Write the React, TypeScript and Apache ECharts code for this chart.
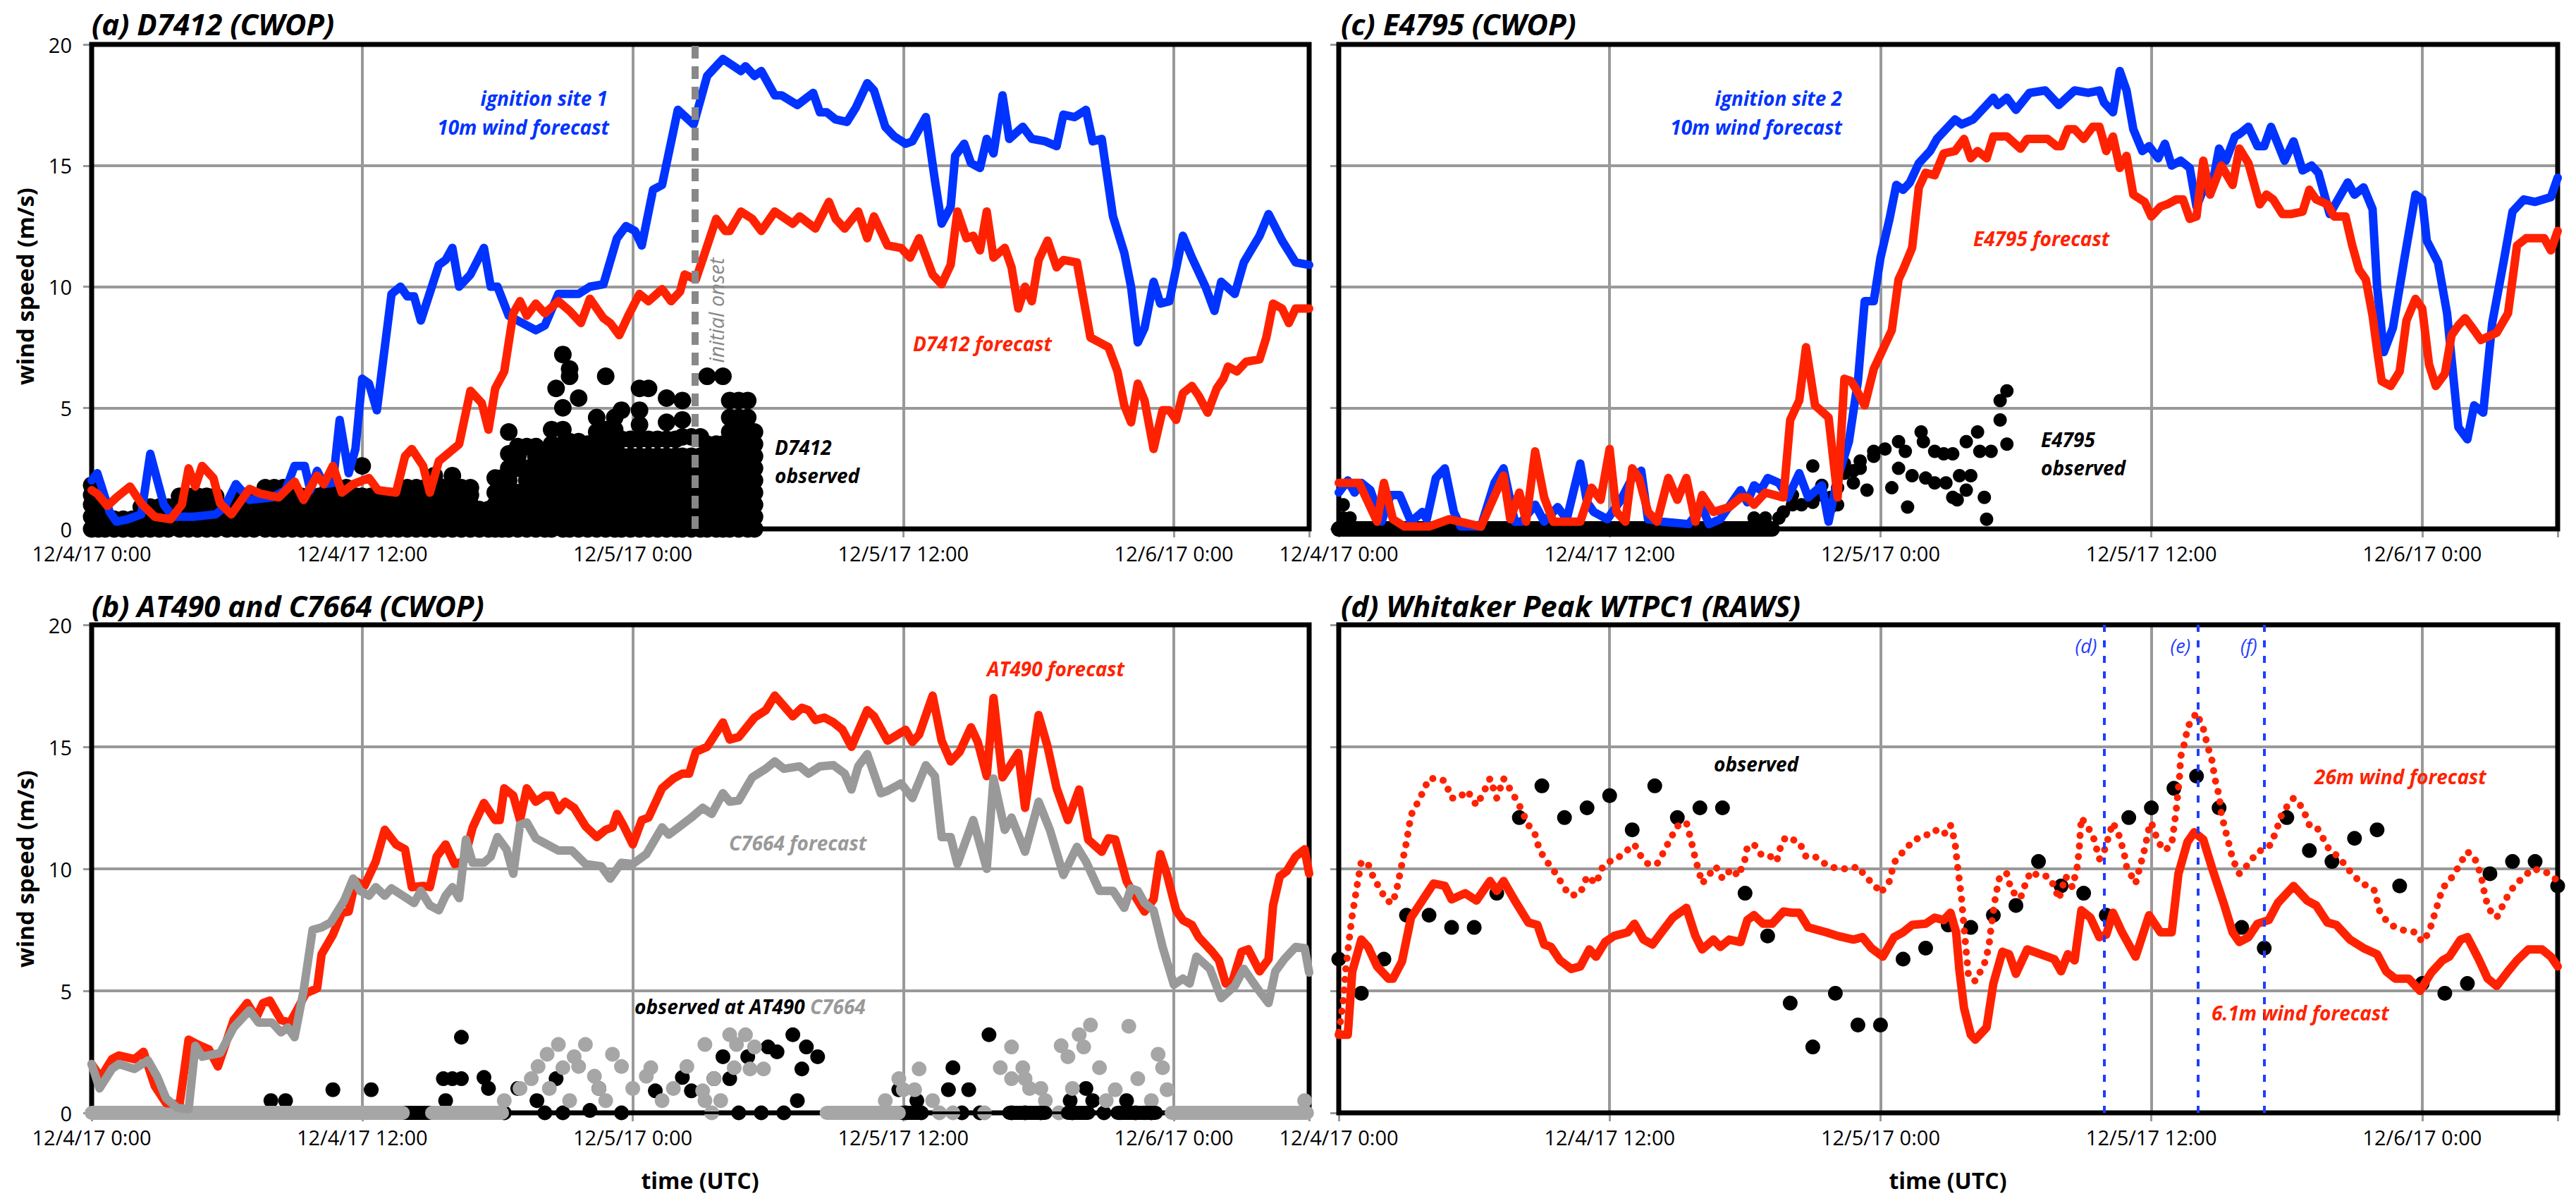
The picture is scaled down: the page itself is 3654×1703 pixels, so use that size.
import React, { useEffect, useRef } from 'react';
import * as echarts from 'echarts';

const W = 3654;
const H = 1703;
const FONT = 'Open Sans';
const BLUE = '#0033ff';
const RED = '#ff2200';
const GRAY = '#999999';
const DOTGRAY = '#a6a6a6';

const xTickLabels = ['12/4/17 0:00', '12/4/17 12:00', '12/5/17 0:00', '12/5/17 12:00', '12/6/17 0:00'];
const yTickLabels = ['0', '5', '10', '15', '20'];

// ---------- panel (a) D7412 ----------
const blueA = [[0,2.0],[0.25,2.3],[0.8,0.7],[1.1,0.3],[1.6,0.4],[2.2,0.6],[2.6,3.1],[3.2,1.0],[3.6,0.5],[4.5,0.5],[5.5,0.6],[5.9,0.9],[6.4,1.85],[7.0,1.2],[8.0,1.3],[8.6,1.6],[9.0,2.6],[9.45,2.6],[9.7,1.6],[10.0,2.4],[10.3,1.85],[10.7,1.9],[11.0,4.5],[11.4,2.3],[11.7,3.3],[12.0,6.2],[12.3,6.0],[12.65,4.9],[13.3,9.7],[13.7,10.0],[14.0,9.6],[14.3,9.6],[14.6,8.6],[15.4,10.9],[15.7,11.1],[16.0,11.6],[16.3,10.0],[16.8,10.5],[17.4,11.6],[17.7,10.0],[18.0,10.0],[18.5,8.8],[19.1,8.5],[19.7,8.2],[20.1,8.4],[20.7,9.7],[21.6,9.7],[22.1,10.0],[22.7,10.1],[23.3,12.0],[23.7,12.5],[24.1,12.3],[24.4,11.7],[24.9,14.0],[25.3,14.2],[26.0,17.3],[26.7,16.7],[27.3,18.7],[28.0,19.4],[28.8,18.9],[29.0,19.1],[29.4,18.7],[29.7,18.9],[30.3,17.9],[30.6,17.9],[31.3,17.5],[32.0,18.0],[32.3,17.2],[32.6,17.2],[33.0,16.9],[33.5,16.8],[33.9,17.4],[34.4,18.4],[34.7,18.1],[35.2,16.6],[35.6,16.2],[36.1,15.9],[36.4,16.0],[37.0,17.0],[37.4,14.4],[37.7,12.6],[38.1,13.3],[38.3,15.4],[38.7,15.9],[39.0,15.1],[39.4,14.9],[39.7,16.1],[40.0,15.5],[40.4,17.9],[40.7,16.1],[41.3,16.6],[41.7,16.1],[42.3,16.0],[42.8,15.8],[43.1,17.1],[43.6,17.0],[44.1,17.3],[44.4,16.0],[44.8,16.1],[45.3,12.9],[45.8,11.4],[46.1,10.0],[46.4,7.7],[46.7,8.3],[47.1,10.2],[47.4,9.3],[47.8,9.4],[48.4,12.1],[48.8,11.2],[49.4,10.0],[49.8,9.0],[50.1,10.2],[50.7,9.7],[51.1,11.0],[51.8,12.1],[52.2,13.0],[52.8,11.9],[53.4,11.0],[54,10.9]];
const redA = [[0,1.6],[0.25,1.45],[0.7,0.95],[1.1,1.3],[1.7,1.75],[2.2,1.05],[2.8,0.5],[3.5,0.4],[4.0,1.0],[4.3,2.5],[4.6,1.75],[4.9,2.6],[5.4,2.1],[5.7,1.05],[6.2,0.6],[7.0,1.65],[7.5,1.45],[8.3,1.3],[9.0,1.95],[9.4,1.2],[10.0,2.2],[10.3,1.85],[10.7,2.6],[11.1,1.5],[11.6,1.85],[12.3,2.1],[12.7,1.6],[13.5,1.5],[13.9,3.0],[14.2,3.3],[14.7,2.6],[15.0,1.5],[15.4,2.8],[16.3,3.5],[16.8,5.7],[17.3,5.2],[17.6,4.1],[17.9,5.8],[18.3,6.5],[18.7,8.9],[19.0,9.4],[19.3,8.8],[19.7,9.3],[20.1,8.9],[20.7,9.4],[21.2,9.0],[21.7,8.5],[22.1,9.5],[22.7,8.7],[23.0,8.5],[23.4,8.0],[23.8,8.8],[24.3,9.7],[24.7,9.4],[25.3,9.9],[25.7,9.4],[26.1,9.8],[26.3,10.5],[26.8,10.3],[27.2,11.4],[27.7,12.8],[28.1,12.3],[28.3,12.3],[28.8,13.1],[29.3,12.8],[29.7,12.3],[30.3,13.1],[31.1,12.6],[31.4,12.9],[32.1,12.4],[32.7,13.5],[33.0,12.8],[33.4,12.4],[34.0,13.1],[34.4,12.0],[34.7,12.9],[35.3,11.7],[35.9,11.6],[36.3,11.2],[36.7,12.0],[37.3,10.5],[37.7,10.1],[38.1,10.9],[38.4,13.1],[38.8,12.0],[39.1,12.1],[39.4,11.5],[39.7,13.1],[40.0,11.2],[40.5,11.6],[40.8,10.8],[41.1,9.1],[41.4,10.0],[41.7,9.4],[42.0,11.1],[42.4,11.9],[42.8,10.8],[43.1,11.1],[43.7,11.0],[44.3,7.9],[44.7,7.7],[45.1,7.5],[45.5,6.5],[45.8,5.1],[46.1,4.4],[46.4,6.0],[46.7,5.3],[47.1,3.3],[47.5,4.9],[47.8,4.9],[48.1,4.5],[48.4,5.6],[48.8,5.9],[49.1,5.5],[49.5,4.8],[49.9,5.8],[50.2,6.2],[50.4,6.7],[50.8,6.5],[51.2,6.9],[51.8,7.0],[52.1,7.9],[52.4,9.3],[52.8,9.1],[53.1,8.5],[53.4,9.1],[54,9.1]];
// observed D7412: [time, values observed around that time]
const obsAColumns: [number, number[]][] = [
  [0.0,[0,0.5,1,1.4,1.8]],[0.3,[0,0.5,1,1.5]],[0.6,[0,0.4]],[1.0,[0,0.4]],[1.4,[0,0.4]],[1.8,[0,0.4]],
  [2.2,[0,0.5,0.9]],[2.6,[0,0.5,0.9]],[3.0,[0,0.5,0.9]],[3.4,[0,0.5,0.9]],[3.9,[0,0.5,0.9,1.35]],
  [4.3,[0,0.5,0.9,1.35]],[4.7,[0,0.5,1,1.35]],[5.1,[0,0.5,1,1.35]],[5.5,[0,0.5,1,1.35]],[6.0,[0,0.5,0.9]],
  [6.4,[0,0.5,1,1.35]],[6.8,[0,0.5,1,1.35]],[7.2,[0,0.5,1,1.35]],[7.7,[0,0.5,1,1.4,1.7]],[8.1,[0,0.5,1,1.4,1.7]],
  [8.5,[0,0.5,1,1.4,1.7]],[8.9,[0,0.5,1,1.35]],[9.3,[0,0.5,1,1.35]],[9.7,[0,0.5,1,1.35]],[10.1,[0,0.5,1,1.35]],
  [10.5,[0,0.5,1,1.4,1.7]],[10.9,[0,0.5,1,1.4,1.7]],[11.3,[0,0.5,1,1.4,1.7]],[11.7,[0,0.5,1,1.35]],
  [12.0,[0,0.5,1,1.35,2.6]],[12.4,[0,0.5,1,1.35]],[12.8,[0,0.5,1,1.35]],[13.2,[0,0.5,1,1.35]],[13.6,[0,0.5,1,1.35]],
  [14.0,[0,0.5,1,1.4,1.7]],[14.4,[0,0.5,1,1.4,1.7]],[14.8,[0,0.5,1,1.4,1.7]],[15.2,[0,0.5,1,1.5,2.0,2.2]],
  [15.6,[0,0.5,1,1.4,1.7]],[16.0,[0,0.5,1,1.4,1.7,2.2]],[16.4,[0,0.5,1,1.4,1.7]],[16.8,[0,0.5,1,1.4,1.7]],
  [17.2,[0,0.4,0.8]],[17.6,[0,0.4,0.8]],[17.9,[0,0.5,1,1.5,2.1]],[18.2,[0,0.5,1,1.5,2.1]],
  [18.5,[0,0.5,1,1.5,2,2.5,3.1,4.0]],[18.9,[0,0.5,1,1.5,2.5,3,3.4]],[19.3,[0,0.5,1,1.5,2,2.5,3.4]],
  [19.7,[0,0.5,1,1.5,2,2.5,3,3.4]],[20.1,[0,0.5,1,1.5,2,2.5,3.1]],[20.4,[0,0.5,1,1.5,2,2.5,3,3.5,4.1]],
  [20.6,[5.8]],[20.9,[0,0.5,1,1.5,2,2.5,3,3.5,4.1,5.0,7.2]],[21.2,[0,0.5,1,1.5,2,2.5,3,3.6,6.3,6.6]],
  [21.6,[0,0.5,1,1.5,2,2.5,3,3.6,5.4]],[22.0,[0,0.5,1,1.5,2,2.5,3,3.5]],[22.4,[0,0.5,1,1.5,2,2.5,3,3.5,4.0,4.6]],
  [22.8,[0,0.5,1,1.5,2,2.5,3,3.5,4.1,6.3]],[23.2,[0,0.5,1,1.5,2,2.5,3,3.5,4.1,4.6]],[23.5,[0,0.5,1,1.5,2,2.5,3,3.7,4.9]],
  [23.9,[0,0.5,1,1.5,2,2.5,3,3.7]],[24.3,[0,0.5,1,1.5,2,2.5,3,3.7,4.3,4.9,5.8]],[24.7,[0,0.5,1,1.5,2,2.5,3,3.7,5.8]],
  [25.1,[0,0.5,1,1.5,2,2.5,3,3.7]],[25.5,[0,0.5,1,1.5,2,2.5,3,3.7,4.4,5.4]],[25.9,[0,0.5,1,1.5,2,2.5,3,3.7]],
  [26.2,[0,0.5,1,1.5,2,2.5,3,3.8,4.5,5.3]],[26.6,[0,0.5,1,1.5,2,2.5,3,3.8]],[27.0,[0,0.5,1,1.5,2,2.5,3,3.8]],
  [27.3,[0,0.5,1,1.5,2,2.5,3,3.5,6.3]],[27.7,[0,0.5,1,1.5,2,2.5,3,3.5]],[28.0,[0,0.5,1,1.5,2,2.5,3,3.5,6.3]],
  [28.3,[0,0.5,1,1.5,2,2.5,3,3.5,4.0,4.6,5.3]],[28.7,[0,0.5,1,1.5,2,2.5,3,3.5,4.0,4.6,5.3]],
  [29.1,[0,0.5,1,1.5,2,2.5,3,3.5,4.0,4.6,5.3]],[29.4,[0,0.5,1,1.5,2,2.5,3,3.5,4.0]]
];
const onsetA = 26.75;

// ---------- panel (c) E4795 ----------
const blueC = [[0,1.5],[0.4,2.0],[0.7,1.5],[1.0,1.9],[1.4,1.6],[1.9,0.3],[2.3,1.4],[2.7,1.4],[3.2,0.3],[3.7,0.7],[3.9,0.4],[4.3,2.1],[4.7,2.5],[5.1,0.7],[5.4,0.1],[6.3,0.1],[6.9,1.9],[7.3,2.5],[7.8,0.3],[8.1,0.3],[8.7,1.0],[9.1,0.3],[9.7,0.9],[10.1,0.4],[10.7,2.7],[11.0,1.1],[11.3,0.7],[11.9,0.4],[12.5,1.2],[13.0,2.1],[13.4,2.4],[13.7,0.4],[14.3,0.3],[15.5,0.2],[16.1,0.9],[16.4,0.2],[16.9,0.4],[17.8,1.6],[18.1,1.1],[18.4,1.8],[18.7,1.6],[19.0,2.1],[19.5,1.9],[19.9,1.3],[20.4,2.3],[20.8,1.3],[21.4,1.8],[21.7,0.3],[22.1,2.1],[22.6,3.6],[23.0,6.1],[23.3,9.4],[23.7,9.4],[24.0,11.2],[24.4,12.8],[24.7,14.2],[25.0,14.0],[25.3,14.3],[25.7,15.1],[26.2,15.6],[26.5,16.1],[27.3,16.9],[27.6,16.7],[28.1,16.9],[29.0,17.8],[29.2,17.5],[29.6,17.8],[30.0,17.3],[30.6,18.0],[31.3,18.1],[31.9,17.5],[32.6,18.1],[33.2,18.0],[33.7,18.1],[33.9,17.6],[34.3,17.2],[34.6,18.9],[34.9,18.1],[35.2,16.5],[35.6,15.6],[35.9,15.8],[36.3,15.3],[36.6,15.9],[36.9,15.0],[37.3,15.2],[37.7,14.9],[38.0,13.3],[38.3,14.0],[38.7,14.2],[39.0,15.7],[39.3,15.2],[39.7,16.2],[39.9,16.3],[40.3,16.6],[40.7,15.8],[41.0,15.8],[41.3,16.6],[41.9,15.2],[42.3,16.0],[42.7,14.8],[43.1,15.0],[43.4,14.7],[43.9,13.0],[44.7,14.3],[45.0,13.8],[45.4,14.1],[45.8,13.2],[46.0,10.0],[46.3,7.3],[46.7,8.3],[47.2,11.1],[47.7,13.8],[48.0,13.6],[48.2,11.9],[48.7,11.0],[49.1,8.9],[49.6,4.2],[50.0,3.7],[50.3,5.1],[50.7,4.8],[51.1,8.5],[51.6,11.0],[52.0,13.1],[52.5,13.6],[53.0,13.5],[53.7,13.7],[54,14.5]];
const redC = [[0,1.9],[0.9,1.9],[1.7,0.3],[2.0,1.9],[2.4,0.4],[2.9,0.1],[4.0,0.1],[4.9,0.4],[6.3,0.1],[7.3,2.2],[7.6,0.4],[8.0,1.5],[8.3,0.3],[8.7,3.2],[9.1,1.3],[9.5,0.3],[10.7,0.3],[11.2,1.7],[11.6,1.2],[12.0,3.3],[12.3,0.7],[12.7,0.3],[13.0,2.5],[13.3,2.1],[13.7,0.7],[14.1,0.3],[14.6,2.1],[15.0,1.2],[15.4,2.1],[15.8,0.3],[16.1,1.4],[16.6,0.7],[17.3,0.9],[17.8,1.3],[18.1,1.3],[18.4,1.0],[18.9,1.5],[19.7,1.3],[20.0,4.5],[20.4,5.3],[20.7,7.5],[21.1,5.1],[21.7,4.6],[22.1,1.3],[22.4,6.2],[22.7,6.1],[22.9,5.8],[23.3,5.1],[23.7,6.6],[24.1,7.4],[24.5,8.2],[24.8,10.3],[25.0,10.7],[25.4,11.6],[25.7,14.1],[26.0,14.7],[26.4,14.6],[26.8,15.5],[27.3,15.6],[27.7,16.1],[28.0,15.3],[28.3,15.6],[28.7,15.3],[29.0,16.2],[29.6,16.2],[30.2,15.7],[30.5,16.1],[31.4,16.1],[31.8,15.8],[32.0,15.8],[32.3,16.5],[32.6,16.5],[33.0,16.1],[33.4,16.6],[33.7,16.6],[34.0,15.6],[34.3,16.2],[34.6,14.9],[34.9,15.4],[35.2,13.8],[35.7,13.5],[36.0,12.9],[36.4,13.3],[36.7,13.4],[37.1,13.6],[37.4,13.6],[37.7,12.8],[38.0,12.9],[38.3,15.2],[38.6,13.8],[39.1,15.0],[39.6,14.2],[39.9,15.7],[40.3,15.1],[40.8,13.4],[41.1,13.8],[41.4,13.6],[41.8,13.0],[42.2,13.0],[42.7,13.1],[43.0,14.0],[43.3,13.6],[43.8,13.4],[44.1,12.9],[44.6,12.9],[44.9,11.7],[45.2,10.7],[45.5,10.3],[45.8,8.8],[46.0,7.4],[46.2,6.1],[46.6,5.9],[47.0,6.5],[47.3,8.6],[47.7,9.5],[48.0,9.1],[48.3,6.8],[48.6,5.9],[49.0,6.4],[49.3,8.0],[49.6,8.4],[49.9,8.7],[50.3,8.2],[50.6,7.8],[51.3,8.1],[51.8,8.9],[52.2,11.7],[52.6,12.0],[53.4,12.0],[53.7,11.5],[54,12.3]];
const obsCZeroRuns = [[0, 19.2]];
const obsC = [[0.2,1.0],[0.2,0.45],[0.5,0.45],[18.4,0.45],[18.9,0.45],[19.5,0.45],[19.7,0.7],[20.1,1.4],[20.1,1.0],[20.5,1.0],[21.0,2.6],[21.0,1.1],[21.4,1.8],[21.4,1.4],[21.8,1.3],[21.8,0.9],[22.1,1.0],[22.1,1.7],[22.4,2.7],[22.4,2.3],[22.8,2.4],[22.8,1.9],[23.1,2.8],[23.1,2.5],[23.4,1.6],[23.7,3.2],[23.7,3.0],[24.2,3.3],[24.5,1.7],[24.8,3.6],[24.8,2.5],[25.1,3.2],[25.2,0.9],[25.4,2.2],[25.8,4.0],[25.9,3.6],[26.0,2.1],[26.4,3.2],[26.4,1.9],[26.8,3.1],[26.9,1.9],[27.2,3.1],[27.2,1.3],[27.4,1.2],[27.5,2.2],[27.8,1.6],[27.8,3.6],[28.0,2.2],[28.3,4.0],[28.4,3.2],[28.6,1.3],[28.7,0.4],[28.9,3.2],[29.3,4.5],[29.3,5.3],[29.6,5.7],[29.6,3.5]];

// ---------- panel (b) AT490 and C7664 ----------
const redB = [[0,2.0],[0.4,1.45],[0.9,2.2],[1.2,2.35],[1.9,2.2],[2.3,2.5],[2.8,1.1],[3.3,0.4],[3.9,0.35],[4.3,3.0],[4.7,2.8],[5.2,2.6],[5.6,1.9],[6.3,3.8],[6.9,4.5],[7.3,3.9],[7.6,4.5],[7.9,4.6],[8.4,3.8],[8.8,3.7],[9.1,4.2],[9.5,4.9],[10.0,5.1],[10.2,6.5],[10.7,7.3],[11.1,8.2],[11.4,8.25],[11.7,9.5],[12.1,9.3],[12.6,10.3],[13.0,11.6],[13.5,11.0],[13.9,10.8],[14.2,9.25],[14.7,9.3],[15.0,9.25],[15.3,10.5],[15.7,11.0],[16.1,10.2],[16.5,10.3],[16.9,11.7],[17.4,12.7],[17.9,12.0],[18.1,12.0],[18.3,13.3],[18.7,13.0],[19.0,12.0],[19.3,13.3],[19.7,12.75],[20.1,13.0],[20.4,13.0],[20.7,12.4],[21.0,12.75],[21.4,12.5],[21.9,11.75],[22.4,11.3],[22.8,11.6],[23.1,11.7],[23.3,12.25],[23.6,11.75],[24.0,11.0],[24.4,12.0],[24.7,12.1],[25.3,13.3],[25.8,13.7],[26.2,13.9],[26.5,13.9],[26.8,14.8],[27.3,15.0],[28.0,16.0],[28.3,15.3],[28.7,15.4],[29.4,16.2],[29.9,16.5],[30.3,17.1],[31.1,16.25],[31.5,16.6],[31.8,16.5],[32.1,16.1],[32.5,16.2],[32.9,16.0],[33.3,15.7],[33.7,15.0],[34.4,16.5],[34.7,16.25],[35.3,15.25],[36.1,15.7],[36.4,15.2],[36.7,15.5],[37.3,17.1],[37.7,15.25],[38.1,14.4],[38.5,14.8],[39.0,15.8],[39.3,15.2],[39.7,13.8],[40.0,17.0],[40.4,13.75],[41.1,14.75],[41.4,12.5],[42.0,16.3],[42.4,15.0],[42.8,13.3],[43.3,12.0],[43.8,13.25],[44.2,11.2],[44.8,10.7],[45.1,11.25],[45.4,11.2],[45.9,9.5],[46.2,9.0],[46.7,8.25],[47.1,8.75],[47.4,10.6],[47.7,9.75],[48.1,8.3],[48.4,7.9],[48.8,7.7],[49.1,7.2],[49.7,6.6],[50.0,6.25],[50.3,5.3],[50.6,5.4],[51.0,6.6],[51.3,6.7],[51.8,5.8],[52.2,6.3],[52.4,8.5],[52.7,9.7],[53.0,9.9],[53.4,10.5],[53.8,10.8],[54,9.8]];
const grayB = [[0,2.0],[0.35,1.0],[0.9,1.8],[1.2,2.0],[1.9,1.8],[2.5,2.15],[2.9,1.5],[3.3,0.6],[3.8,0.2],[4.3,0.15],[4.6,2.75],[4.9,2.3],[5.7,2.45],[6.3,3.5],[7.0,4.2],[7.4,3.7],[8.0,3.7],[8.4,3.3],[8.7,3.5],[9.0,3.1],[9.4,5.0],[9.8,7.5],[10.2,7.6],[10.6,7.8],[11.2,8.7],[11.6,9.6],[11.9,9.1],[12.3,8.9],[12.6,9.25],[13.0,8.9],[13.3,9.2],[13.8,8.9],[14.3,8.6],[14.6,9.1],[15.0,8.5],[15.4,8.3],[15.7,8.9],[16.0,9.25],[16.3,8.8],[16.6,11.2],[16.9,10.25],[17.4,10.25],[17.7,10.5],[18.0,11.3],[18.4,10.8],[18.7,9.8],[19.0,11.8],[19.3,11.9],[19.7,11.25],[20.2,11.0],[20.7,10.75],[21.3,10.75],[21.9,10.2],[22.6,10.1],[23.0,9.6],[23.5,10.25],[24.0,10.2],[24.6,10.6],[25.3,11.7],[25.6,11.4],[26.1,11.75],[26.6,12.1],[27.1,12.5],[27.5,12.25],[28.0,13.1],[28.3,12.75],[28.7,12.8],[29.3,13.75],[29.9,14.1],[30.3,14.4],[30.7,14.1],[31.4,14.2],[31.8,13.9],[32.3,14.2],[32.9,14.25],[33.4,13.9],[33.7,13.25],[34.0,14.2],[34.4,14.7],[35.0,13.1],[35.3,13.2],[35.9,13.5],[36.4,12.9],[37.0,14.25],[37.4,13.8],[37.7,11.3],[38.1,11.3],[38.4,10.2],[39.1,12.0],[39.7,10.0],[40.0,13.7],[40.5,11.6],[40.8,12.1],[41.4,10.7],[42.0,12.75],[42.5,11.6],[43.1,9.75],[43.7,10.9],[44.1,10.3],[44.7,9.1],[45.3,9.1],[45.8,8.4],[46.1,9.2],[46.4,9.1],[46.7,8.6],[47.1,8.3],[47.5,6.8],[48.0,5.25],[48.4,5.5],[48.7,5.3],[49.0,6.4],[49.6,5.9],[50.1,4.7],[50.7,5.2],[51.1,5.9],[51.7,5.1],[52.2,4.5],[52.5,5.8],[52.9,6.3],[53.4,6.8],[53.8,6.75],[54,5.75]];
const obsAT490 = [[7.95,0.5],[8.6,0.5],[10.7,0.95],[12.4,0.95],[15.7,0.5],[15.6,1.4],[16.0,1.4],[16.4,1.4],[16.4,3.1],[17.4,1.45],[17.6,1.0],[18.3,0],[18.9,1.0],[19.75,0.5],[20.1,0],[20.6,1.4],[20.9,0],[22.1,0.1],[22.5,1.0],[23.5,0],[25.0,0.9],[26.2,1.45],[26.6,0.9],[27.6,1.4],[28.0,2.3],[28.3,1.4],[28.7,0],[29.1,2.3],[29.7,0],[30.0,2.7],[30.4,2.5],[30.7,0],[31.1,3.2],[31.3,0.5],[31.5,1.8],[31.7,2.7],[32.2,2.3],[35.8,0.95],[36.1,0],[36.6,0.5],[36.8,0],[38.0,0.95],[38.2,1.85],[38.6,0],[38.9,0.95],[39.4,0],[39.8,3.2],[40.8,0],[41.4,0],[42.1,0],[43.4,0.5],[43.5,0],[44.1,1.0],[44.4,0.5],[44.9,0],[45.9,0.5],[46.3,0],[47.0,0]];
const obsAT490ZeroRuns = [[13.8,15.0],[35.9,36.8],[40.7,42.3],[43.3,44.2],[45.5,47.2]];
const obsAT490Links = [[18.3,23.6],[26.9,32.6],[36.8,47.8]];
const obsC7664 = [[18.3,0.5],[19.0,1.0],[19.5,1.4],[19.8,1.9],[20.2,2.4],[20.7,2.8],[20.3,1.0],[20.9,1.85],[21.2,0.5],[21.4,2.3],[21.6,1.9],[21.9,2.8],[22.3,1.5],[22.5,1.0],[22.8,0.5],[23.1,2.4],[23.5,1.9],[24.0,1.0],[24.6,1.5],[24.8,1.85],[25.3,0.5],[25.8,1.0],[26.4,1.9],[27.2,2.8],[27.1,0.9],[27.2,0.5],[27.5,0],[27.6,1.4],[27.9,0.5],[28.3,3.2],[28.5,1.85],[28.6,2.8],[29.0,3.2],[29.2,1.8],[29.4,2.7],[29.8,1.8],[35.2,0.5],[35.8,1.4],[36.0,0.95],[36.5,0.95],[36.7,1.8],[37.3,0.5],[37.6,0],[38.2,0],[39.6,0],[40.3,1.85],[40.8,2.7],[40.8,1.4],[41.3,1.85],[41.4,1.4],[41.6,1.0],[42.1,1.0],[42.3,0.5],[42.9,0],[43.0,2.75],[43.3,2.3],[43.5,1.0],[43.8,3.2],[44.0,2.7],[44.3,3.6],[44.7,1.85],[45.0,0.5],[45.4,0.95],[45.6,0],[46.0,3.55],[46.4,1.4],[46.7,0],[47.0,0.5],[47.3,2.4],[47.5,1.85],[47.7,0.95],[53.8,0.5]];
const obsC7664ZeroRuns = [[0,13.8],[15.1,18.2],[32.6,35.8],[47.9,53.9]];

// ---------- panel (d) Whitaker Peak WTPC1 ----------
const fc61m = [[0,3.2],[0.4,3.2],[0.6,5.8],[1.0,7.1],[1.3,6.8],[1.7,6.0],[2.2,5.5],[2.4,5.5],[2.8,6.2],[3.2,8.0],[3.7,8.7],[4.2,9.4],[4.7,9.3],[5.0,8.75],[5.6,9.0],[6.1,8.7],[6.7,9.5],[7.0,9.1],[7.3,9.5],[7.8,8.7],[8.4,7.8],[8.8,7.7],[9.1,6.9],[9.4,6.8],[9.8,6.25],[10.3,5.9],[10.7,6.0],[11.1,6.7],[11.4,6.4],[11.8,7.0],[12.2,7.25],[12.8,7.4],[13.1,7.75],[13.5,7.1],[13.9,6.9],[14.3,7.4],[14.8,8.0],[15.4,8.4],[15.8,7.25],[16.1,6.7],[16.6,7.1],[16.9,6.8],[17.3,7.1],[17.8,7.0],[18.1,7.9],[18.4,8.1],[18.8,7.75],[19.2,7.75],[19.7,8.25],[20.1,8.2],[20.4,8.2],[20.8,7.6],[21.6,7.4],[22.1,7.25],[22.8,7.1],[23.2,7.2],[23.6,6.75],[24.1,6.4],[24.6,7.2],[25.0,7.4],[25.4,7.7],[26.0,7.75],[26.4,8.0],[26.8,7.9],[27.1,8.2],[27.35,7.4],[27.5,5.8],[27.7,4.3],[28.0,3.2],[28.2,3.0],[28.7,3.5],[29.0,5.3],[29.4,6.6],[29.7,6.5],[30.0,5.7],[30.5,6.7],[31.1,6.5],[31.7,6.3],[32.0,5.8],[32.3,6.5],[32.6,6.25],[32.9,8.3],[33.3,8.0],[33.7,7.2],[34.0,7.3],[34.3,8.2],[34.7,7.4],[35.3,6.4],[35.9,8.1],[36.4,7.4],[36.9,7.4],[37.2,9.8],[37.6,11.1],[37.9,11.5],[38.3,11.2],[38.7,10.0],[39.2,8.6],[39.6,7.4],[39.9,7.0],[40.3,7.2],[40.7,7.75],[41.2,7.9],[41.6,8.6],[42.3,9.3],[42.9,8.7],[43.3,8.5],[43.8,7.8],[44.2,7.7],[44.8,7.1],[45.4,6.75],[46.0,6.5],[46.4,5.8],[46.8,5.5],[47.4,5.5],[47.9,5.0],[48.4,5.75],[48.9,6.25],[49.2,6.4],[49.7,7.1],[50.0,7.2],[50.5,6.3],[50.9,5.5],[51.3,5.2],[51.8,5.8],[52.2,6.25],[52.7,6.7],[53.3,6.7],[53.7,6.4],[54,6.0]];
const fc26m = [[0,3.3],[0.1,3.9],[0.2,4.6],[0.3,5.8],[0.5,7.4],[0.6,8.1],[0.8,9.25],[1.0,10.3],[1.3,10.2],[1.6,9.5],[1.8,9.25],[2.1,8.7],[2.4,8.6],[2.6,9.3],[2.8,10.2],[3.0,11.1],[3.2,12.2],[3.6,12.9],[4.0,13.7],[4.4,13.7],[4.7,13.6],[5.0,12.9],[5.3,12.9],[5.7,13.2],[6.1,12.6],[6.4,13.1],[6.7,13.7],[7.0,12.9],[7.3,13.7],[7.7,13.1],[8.0,12.6],[8.4,11.8],[8.7,11.4],[8.9,10.75],[9.3,10.2],[9.7,9.7],[10.0,9.2],[10.3,8.9],[10.7,9.0],[11.0,9.7],[11.4,9.4],[11.7,10.1],[12.0,10.3],[12.3,10.4],[12.7,10.7],[13.1,11.0],[13.4,10.5],[13.7,10.2],[14.1,10.2],[14.4,10.7],[14.7,11.25],[15.0,11.75],[15.4,11.9],[15.6,11.2],[15.8,10.4],[16.0,9.75],[16.1,9.4],[16.7,10.1],[17.0,9.6],[17.4,10.0],[17.7,9.7],[18.0,10.4],[18.1,10.9],[18.4,11.0],[18.7,10.6],[19.0,10.6],[19.4,10.3],[19.6,11.0],[19.8,11.3],[20.1,11.2],[20.4,11.1],[20.7,10.5],[21.1,10.5],[21.4,10.3],[21.7,10.1],[22.2,10.0],[22.7,10.0],[23.0,10.1],[23.4,9.6],[23.7,9.4],[24.0,9.0],[24.4,9.5],[24.6,10.25],[24.8,10.5],[25.1,10.8],[25.5,11.2],[25.9,11.3],[26.4,11.6],[26.8,11.4],[27.1,11.8],[27.3,11.1],[27.4,10.2],[27.5,9.5],[27.6,8.7],[27.7,7.6],[27.8,6.6],[27.9,5.6],[28.2,5.4],[28.6,6.1],[28.8,6.8],[28.9,7.6],[29.1,8.9],[29.3,9.75],[29.6,9.8],[29.8,9.1],[30.2,8.8],[30.5,9.6],[30.7,9.9],[31.0,9.7],[31.4,9.7],[31.7,9.3],[31.9,8.75],[32.2,9.7],[32.5,9.25],[32.7,10.0],[32.8,10.75],[32.85,11.5],[32.9,12.1],[33.4,11.4],[33.7,10.4],[33.9,10.7],[34.1,11.3],[34.3,11.9],[34.6,11.3],[34.8,10.6],[34.9,10.1],[35.3,9.4],[35.5,10.1],[35.7,10.8],[35.9,11.7],[36.0,11.9],[36.3,11.1],[36.6,10.75],[36.9,11.0],[37.0,11.7],[37.1,12.4],[37.25,13.8],[37.3,14.6],[37.5,15.25],[37.6,15.8],[38.0,16.4],[38.3,15.75],[38.5,15.0],[38.7,14.4],[38.8,13.75],[39.0,13.0],[39.1,12.25],[39.3,11.5],[39.5,10.8],[39.6,10.4],[39.9,9.8],[40.3,10.2],[40.7,10.7],[41.0,10.8],[41.3,11.0],[41.6,11.75],[41.8,12.3],[42.3,12.9],[42.7,12.5],[43.0,11.8],[43.3,11.75],[43.7,11.1],[43.9,10.75],[44.3,10.5],[44.7,10.0],[45.0,9.7],[45.3,9.4],[45.6,9.3],[45.9,9.1],[46.1,8.3],[46.3,8.0],[46.6,7.7],[47.1,7.5],[47.7,7.4],[48.0,7.0],[48.3,7.4],[48.6,8.3],[48.9,9.2],[49.4,9.75],[49.7,10.25],[50.0,10.7],[50.3,10.5],[50.6,9.75],[50.8,8.8],[51.0,8.3],[51.3,8.0],[51.7,8.75],[52.0,9.2],[52.4,9.6],[52.9,10.0],[53.4,9.9],[53.7,9.75],[54,9.5]];
const obsWTPC1 = [[0,6.3],[1,4.9],[2,6.3],[3,8.1],[4,8.1],[5,7.6],[6,7.6],[7,9.0],[8,12.1],[9,13.4],[10,12.1],[11,12.5],[12,13.0],[13,11.6],[14,13.4],[15,12.1],[16,12.5],[17,12.5],[18,9.0],[19,7.25],[20,4.5],[21,2.7],[22,4.9],[23,3.6],[24,3.6],[25,6.3],[26,6.75],[27,7.7],[28,7.6],[29,8.1],[30,8.5],[31,10.3],[32,9.3],[33,9.0],[34,8.1],[35,12.1],[36,12.5],[37,13.3],[38,13.8],[39,12.5],[40,7.6],[41,6.75],[42,12.1],[43,10.75],[44,10.3],[45,11.25],[46,11.6],[47,9.3],[48,5.3],[49,4.9],[50,5.3],[51,9.8],[52,10.3],[53,10.3],[54,9.3]];
const snapshotTimes = [33.9, 38.05, 41.0];
const snapshotLabels = ['(d)', '(e)', '(f)'];

// ---------- layout ----------
const grids = [
  { left: 130, top: 63, width: 1727, height: 687 },   // (a)
  { left: 1899, top: 63, width: 1729, height: 687 },  // (c)
  { left: 130, top: 886, width: 1727, height: 692 },  // (b)
  { left: 1899, top: 886, width: 1729, height: 692 }, // (d)
];

function lineS(i: number, data: any[], color: string, width = 12, extra: any = {}) {
  return {
    type: 'line', xAxisIndex: i, yAxisIndex: i, data, symbol: 'none', showSymbol: false, silent: true,
    lineStyle: { color, width, join: 'round', cap: 'round' }, itemStyle: { color }, ...extra,
  };
}
function scatterS(i: number, data: any[], color: string, size: number) {
  return {
    type: 'scatter', xAxisIndex: i, yAxisIndex: i, data, symbol: 'circle', symbolSize: size,
    itemStyle: { color, opacity: 1 }, clip: false, silent: true,
  };
}
function runsS(i: number, runs: number[][], color: string, width: number) {
  return runs.map(([a, b]) => lineS(i, [[a, 0], [b, 0]], color, width, { clip: false }));
}

function txt(text: string, x: number, y: number, fill: string, size: number, opts: any = {}) {
  return {
    type: 'text', x, y, rotation: opts.rotation || 0, z: 100, silent: true,
    style: {
      text, fill, fontSize: size, fontFamily: FONT,
      fontWeight: opts.weight || 'bold', fontStyle: opts.style || 'italic',
      textAlign: opts.align || 'left', textVerticalAlign: 'middle', rich: opts.rich,
    },
  };
}

export default function App() {
  const ref = useRef<HTMLDivElement>(null);
  useEffect(() => {
    document.body.style.margin = '0';
    const chart = echarts.init(ref.current!, null, { renderer: 'svg', width: W, height: H });
    const xAxes = grids.map((_, i) => ({
      type: 'value', gridIndex: i, min: 0, max: 54, interval: 12,
      axisLine: { show: false },
      axisTick: { show: true, length: 12, lineStyle: { color: GRAY, width: 3 } },
      axisLabel: {
        margin: 20, fontSize: 29, fontFamily: FONT, color: '#000',
        formatter: (v: number) => {
          const k = Math.round(v / 12);
          return Math.abs(v - k * 12) < 1e-6 && k < xTickLabels.length ? xTickLabels[k] : '';
        },
      },
      splitLine: { show: true, showMinLine: false, showMaxLine: false, lineStyle: { color: GRAY, width: 4 } },
    }));
    const yAxes = grids.map((_, i) => ({
      type: 'value', gridIndex: i, min: 0, max: 20, interval: 5,
      axisLine: { show: false },
      axisTick: { show: true, length: 12, lineStyle: { color: GRAY, width: 3 } },
      axisLabel: {
        show: i === 0 || i === 2, margin: 28, fontSize: 29, fontFamily: FONT, color: '#000',
        formatter: (v: number) => yTickLabels[Math.round(v / 5)] ?? '',
      },
      splitLine: { show: true, showMinLine: false, showMaxLine: false, lineStyle: { color: GRAY, width: 4 } },
    }));

    const obsA = obsAColumns.flatMap(([t, vs]) => vs.map((v) => [t, v]));

    const series: any[] = [
      // (a)
      lineS(0, blueA, BLUE, 12, {
        markLine: {
          silent: true, symbol: ['none', 'none'], label: { show: false },
          lineStyle: { color: '#888888', width: 10, type: [18, 11] },
          data: [{ xAxis: onsetA }],
        },
      }),
      lineS(0, redA, RED),
      scatterS(0, obsA, '#000', 25),
      // (c)
      ...runsS(1, obsCZeroRuns, '#000', 22),
      scatterS(1, obsC, '#000', 19),
      lineS(1, blueC, BLUE),
      lineS(1, redC, RED),
      // (b)
      ...runsS(2, obsAT490ZeroRuns, '#000', 20),
      ...obsAT490Links.map(([a, b]) => lineS(2, [[a, 0], [b, 0]], '#000', 4, { clip: false })),
      scatterS(2, obsAT490, '#000', 21),
      ...runsS(2, obsC7664ZeroRuns, DOTGRAY, 20),
      scatterS(2, obsC7664, DOTGRAY, 21),
      lineS(2, redB, RED),
      lineS(2, grayB, GRAY),
      // (d)
      lineS(3, fc61m, RED, 12, {
        markLine: {
          silent: true, symbol: ['none', 'none'], label: { show: false },
          lineStyle: { color: '#1f3dff', width: 4, type: [10, 12] },
          data: snapshotTimes.map((t) => ({ xAxis: t })),
        },
      }),
      lineS(3, fc26m, RED, 10, { lineStyle: { color: RED, width: 10, type: [0.1, 15], cap: 'round', join: 'round' } }),
      scatterS(3, obsWTPC1, '#000', 21),
    ];

    const graphic: any[] = [
      // titles
      txt('(a) D7412 (CWOP)', 130, 33, '#000', 42),
      txt('(c) E4795 (CWOP)', 1902, 33, '#000', 42),
      txt('(b) AT490 and C7664 (CWOP)', 130, 858, '#000', 42),
      txt('(d) Whitaker Peak WTPC1 (RAWS)', 1902, 858, '#000', 42),
      // axis names
      txt('wind speed (m/s)', 35, 406, '#000', 33, { style: 'normal', rotation: Math.PI / 2, align: 'center' }),
      txt('wind speed (m/s)', 35, 1232, '#000', 33, { style: 'normal', rotation: Math.PI / 2, align: 'center' }),
      txt('time (UTC)', 993, 1673, '#000', 32, { style: 'normal', align: 'center' }),
      txt('time (UTC)', 2763, 1673, '#000', 32, { style: 'normal', align: 'center' }),
      // (a)
      txt('ignition site 1', 862, 139, BLUE, 28, { align: 'right' }),
      txt('10m wind forecast', 864, 180, BLUE, 28, { align: 'right' }),
      txt('D7412 forecast', 1295, 487, RED, 28),
      txt('D7412', 1099, 634, '#000', 28),
      txt('observed', 1099, 674, '#000', 28),
      txt('initial onset', 1015, 440, '#888888', 29, { weight: 'normal', rotation: Math.PI / 2, align: 'center' }),
      // (c)
      txt('ignition site 2', 2613, 139, BLUE, 28, { align: 'right' }),
      txt('10m wind forecast', 2613, 180, BLUE, 28, { align: 'right' }),
      txt('E4795 forecast', 2799, 338, RED, 28),
      txt('E4795', 2895, 623, '#000', 28),
      txt('observed', 2895, 663, '#000', 28),
      // (b)
      txt('AT490 forecast', 1400, 948, RED, 28),
      txt('C7664 forecast', 1034, 1195, GRAY, 28),
      txt('{k|observed at AT490} {g|C7664}', 900, 1427, '#000', 28, {
        rich: {
          k: { fill: '#000', fontSize: 28, fontFamily: FONT, fontWeight: 'bold', fontStyle: 'italic' },
          g: { fill: GRAY, fontSize: 28, fontFamily: FONT, fontWeight: 'bold', fontStyle: 'italic' },
        },
      }),
      // (d)
      txt('observed', 2431, 1083, '#000', 28),
      txt('26m wind forecast', 3283, 1101, RED, 28),
      txt('6.1m wind forecast', 3137, 1436, RED, 28),
      ...snapshotLabels.map((s, k) =>
        txt(s, 1899 + snapshotTimes[k] * (1729 / 54) - 10, 915, '#1f3dff', 27, { weight: 'normal', align: 'right' })
      ),
    ];

    chart.setOption({
      animation: false,
      backgroundColor: '#ffffff',
      grid: grids.map((g) => ({ ...g, show: true, borderColor: '#000', borderWidth: 7, z: 1, containLabel: false })),
      xAxis: xAxes,
      yAxis: yAxes,
      series,
      graphic,
    });
    return () => chart.dispose();
  }, []);
  return <div ref={ref} style={{ width: W, height: H }} />;
}
